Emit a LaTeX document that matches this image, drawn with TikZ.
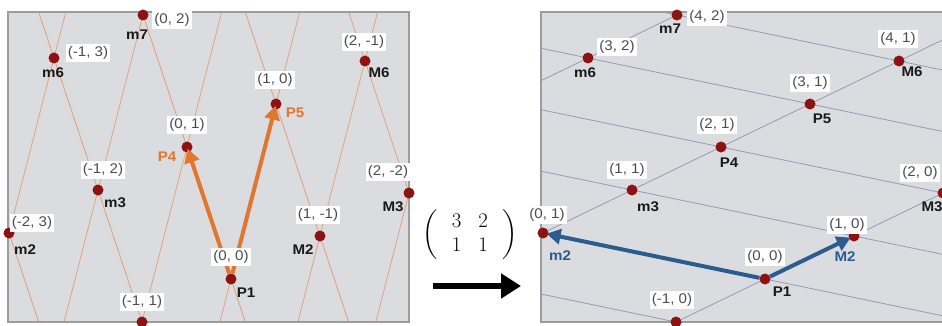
\documentclass[tikz,border=0pt]{standalone}
\usepackage{amsmath}
\usepackage{fontspec}
\setsansfont{Liberation Sans}[FakeStretch=1.08]
\usetikzlibrary{arrows.meta}
\definecolor{panelbg}{HTML}{DBDCDF}
\definecolor{panelbd}{HTML}{9C9C9C}
\definecolor{dotred}{HTML}{8E1212}
\definecolor{orng}{HTML}{E2762C}
\definecolor{bluea}{HTML}{2C5B8E}
\definecolor{ogrid}{HTML}{E2A27C}
\definecolor{bgrid}{HTML}{8D9EB8}
\definecolor{coordtxt}{HTML}{4C4C4C}
\tikzset{
  dot/.style={circle,fill=dotred,inner sep=0pt,minimum size=11pt},
  clab/.style={fill=white,text=coordtxt,inner sep=2pt,font=\sffamily\fontsize{14}{14}\selectfont},
  nlab/.style={inner sep=0pt,text=black!90,font=\sffamily\bfseries\fontsize{14}{14}\selectfont},
  olab/.style={nlab,text=orng},
  blab/.style={nlab,text=bluea},
  oline/.style={ogrid,line width=0.8pt},
  bline/.style={bgrid,line width=0.8pt},
  panel/.style={fill=panelbg},
  panelframe/.style={draw=panelbd,line width=1.4pt},
  oarr/.style={orng,line width=4pt,shorten >=-4pt,-{Triangle[length=14pt,width=15pt]}},
  barr/.style={bluea,line width=4pt,shorten >=-2pt,-{Triangle[length=14pt,width=15pt]}},
  bigarr/.style={black,line width=6pt,-{Triangle[length=20pt,width=24pt]}},
}
\begin{document}
\begin{tikzpicture}[x=1pt,y=-1pt]
\useasboundingbox (0,0) rectangle (942,326);
\clip (0,0) rectangle (942,326);
% ---------- left panel ----------
\fill[panel] (8,12) rectangle (409,322);
\begin{scope}
  \clip (8,12) rectangle (409,322);
  \begin{scope}[shift={(231pt,-279pt)},x={(45pt,175pt)},y={(-44pt,132pt)}]
    \foreach \a in {-4,...,4} \draw[oline] (\a,-6) -- (\a,7);
    \foreach \b in {-4,...,6} \draw[oline] (-6,\b) -- (6,\b);
  \end{scope}
\end{scope}
\draw[panelframe] (8,12) rectangle (409,322);
\begin{scope}[shift={(231pt,-279pt)},x={(45pt,175pt)},y={(-44pt,132pt)}]
  \node[dot] (Lm7) at (0,2) {};
  \node[dot] (Lm6) at (-1,3) {};
  \node[dot] (LP4) at (0,1) {};
  \node[dot] (LP5) at (1,0) {};
  \node[dot] (LM6) at (2,-1) {};
  \node[dot] (Lm3) at (-1,2) {};
  \node[dot] (Lm2) at (-2,3) {};
  \node[dot] (Lq) at (-1,1) {};
  \node[dot] (LP1) at (0,0) {};
  \node[dot] (LM2) at (1,-1) {};
  \node[dot] (LM3) at (2,-2) {};
\end{scope}
\draw[oarr] (LP1) -- (LP4);
\draw[oarr] (LP1) -- (LP5);
\node[clab] (cLm7) at (172,20) {(0, 2)};
\node[clab] (cLm6) at (88,53) {(-1, 3)};
\node[clab] (cLP4) at (187,125) {(0, 1)};
\node[clab] (cLP5) at (275,80) {(1, 0)};
\node[clab] (cLM6) at (364,42) {(2, -1)};
\node[clab] (cLm3) at (103,170) {(-1, 2)};
\node[clab] (cLm2) at (32,223) {(-2, 3)};
\node[clab] (cLq) at (142,302) {(-1, 1)};
\node[clab] (cLP1) at (231,257) {(0, 0)};
\node[clab] (cLM2) at (318,215) {(1, -1)};
\node[clab] (cLM3) at (388,172) {(2, -2)};
\node[nlab] (nLm7) at (137,35) {m7};
\node[nlab] (nLm6) at (53,73) {m6};
\node[olab] (nLP4) at (167,157) {P4};
\node[olab] (nLP5) at (295,113) {P5};
\node[nlab] (nLM6) at (379,73) {M6};
\node[nlab] (nLm3) at (115,203) {m3};
\node[nlab] (nLm2) at (25,250) {m2};
\node[nlab] (nLP1) at (246,293) {P1};
\node[nlab] (nLM2) at (303,250) {M2};
\node[nlab] (nLM3) at (393,207) {M3};
% ---------- middle ----------
\node[inner sep=0pt] (mat) at (470,235) {\fontsize{20}{24}\selectfont\arraycolsep=8.5pt$\left(\hspace{6pt}\begin{array}{cc}3&2\\1&1\end{array}\hspace{6pt}\right)$};
\coordinate (as) at (433,286);
\coordinate (ae) at (521,286);
\draw[bigarr] (as) -- (ae);
% ---------- right panel ----------
\fill[panel] (541,12) rectangle (946,322);
\begin{scope}
  \clip (541,12) rectangle (946,322);
  \begin{scope}[shift={(765pt,-279pt)},x={(89pt,43pt)},y={(-222pt,46pt)}]
    \foreach \u in {-4,...,9} \draw[bline] (\u,-5) -- (\u,6);
    \foreach \v in {-4,...,6} \draw[bline] (-6,\v) -- (10,\v);
  \end{scope}
\end{scope}
\draw[panelframe] (541,12) rectangle (946,322);
\begin{scope}[shift={(765pt,-279pt)},x={(89pt,43pt)},y={(-222pt,46pt)}]
  \node[dot] (Rm7) at (4,2) {};
  \node[dot] (Rm6) at (3,2) {};
  \node[dot] (RP4) at (2,1) {};
  \node[dot] (Rm3) at (1,1) {};
  \node[dot] (Rm2) at (0,1) {};
  \node[dot] (Rq) at (-1,0) {};
  \node[dot] (RP1) at (0,0) {};
  \node[dot] (RM2) at (1,0) {};
  \node[dot] (RM3) at (2,0) {};
  \node[dot] (RP5) at (3,1) {};
  \node[dot] (RM6) at (4,1) {};
\end{scope}
\draw[barr] (RP1) -- (Rm2);
\draw[barr] (RP1) -- (RM2);
\node[clab] (cRm7) at (707,17) {(4, 2)};
\node[clab] (cRm6) at (617,47) {(3, 2)};
\node[clab] (cRP4) at (717,125) {(2, 1)};
\node[clab] (cRm3) at (627,170) {(1, 1)};
\node[clab] (cRm2) at (547,215) {(0, 1)};
\node[clab] (cRq) at (672,300) {(-1, 0)};
\node[clab] (cRP1) at (765,257) {(0, 0)};
\node[clab] (cRM2) at (847,225) {(1, 0)};
\node[clab] (cRM3) at (920,173) {(2, 0)};
\node[clab] (cRP5) at (810,83) {(3, 1)};
\node[clab] (cRM6) at (898,39) {(4, 1)};
\node[nlab] (nRm7) at (670,29) {m7};
\node[nlab] (nRm6) at (585,73) {m6};
\node[nlab] (nRP4) at (729,163) {P4};
\node[nlab] (nRm3) at (648,207) {m3};
\node[blab] (nRm2) at (560,256) {m2};
\node[nlab] (nRP1) at (782,292) {P1};
\node[blab] (nRM2) at (845,257) {M2};
\node[nlab] (nRM3) at (932,207) {M3};
\node[nlab] (nRP5) at (822,119) {P5};
\node[nlab] (nRM6) at (912,72) {M6};
\end{tikzpicture}
\end{document}
